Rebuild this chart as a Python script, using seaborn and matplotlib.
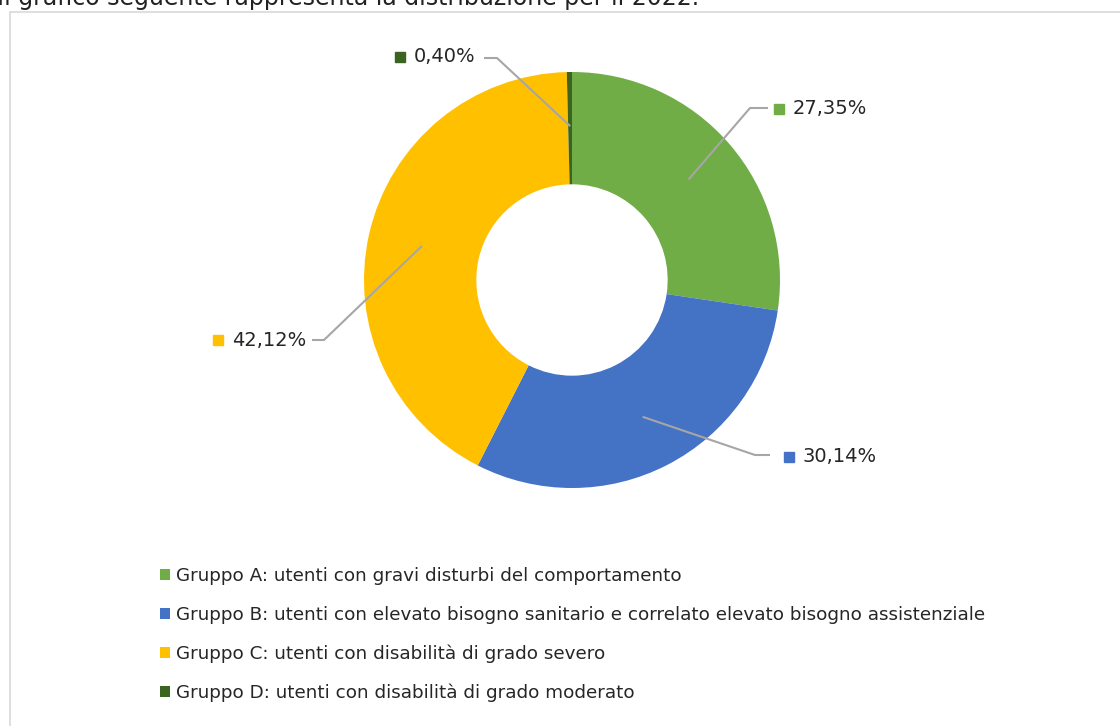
import numpy as np
import matplotlib
matplotlib.use("Agg")
import matplotlib.pyplot as plt
import seaborn as sns
from matplotlib.patches import Patch, Rectangle

sns.set_theme(style="white")
plt.rcParams['font.family'] = ['DejaVu Sans']

# dati
gruppi = [
    "Gruppo A: utenti con gravi disturbi del comportamento",
    "Gruppo B: utenti con elevato bisogno sanitario e correlato elevato bisogno assistenziale",
    "Gruppo C: utenti con disabilità di grado severo",
    "Gruppo D: utenti con disabilità di grado moderato",
]
percentuali = [27.35, 30.14, 42.12, 0.40]
etichette = ["27,35%", "30,14%", "42,12%", "0,40%"]
colori = sns.color_palette(["#70AD47", "#4472C4", "#FFC000", "#3B6420"])

W, H = 1120, 726
fig = plt.figure(figsize=(W / 100, H / 100), dpi=100)

# cornice del grafico e testo sopra (tagliato come nell'originale)
fig.patches.append(Rectangle((10 / W, -0.05), 1.1, 1 - 12 / H + 0.05,
                             transform=fig.transFigure, fill=False,
                             edgecolor="#D9D9D9", linewidth=1.2))
fig.text(-3 / W, 1 - 5 / H, "Il grafico seguente rappresenta la distribuzione per il 2022.",
         fontsize=17, va="baseline", ha="left", color="#222222")

# asse del grafico a ciambella: centro (572, 280), raggio 208 px
cx, cy, R = 572, 280, 208
half = 1.25 * R
ax = fig.add_axes([(cx - half) / W, (H - cy - half) / H, 2 * half / W, 2 * half / H])
wedges, _ = ax.pie(percentuali, colors=colori, startangle=90, counterclock=False,
                   radius=1, wedgeprops=dict(width=0.54, linewidth=0.4, edgecolor="none"))
ax.set_xlim(-1.25, 1.25)
ax.set_ylim(-1.25, 1.25)
ax.axis("off")


def px(x, y):
    return (x - cx) / R, (cy - y) / R


# posizioni delle etichette (pixel): gomito, fine linea, quadratino, testo
pos = [
    ((750, 108), (768, 108), (779, 109), (793, 109)),
    ((755, 455), (770, 455), (789, 457), (803, 457)),
    ((324, 340), (312, 340), (218, 340), (232, 340)),
    ((497, 58), (484, 58), (400, 57), (414, 57)),
]

cum = np.cumsum([0] + percentuali[:-1])
for i, w in enumerate(wedges):
    mid = np.deg2rad(90 - (cum[i] + percentuali[i] / 2) * 3.6)
    r = 0.74
    ax0 = (r * np.cos(mid), r * np.sin(mid))
    elbow, end, sq, tx = pos[i]
    ex, ey = px(*elbow)
    nx, ny = px(*end)
    ax.plot([ax0[0], ex, nx], [ax0[1], ey, ny], color="#A6A6A6", lw=1.5,
            solid_capstyle="butt", clip_on=False)
    sx, sy = px(*sq)
    ax.plot([sx], [sy], marker="s", ms=7, color=colori[i], clip_on=False)
    tx_, ty_ = px(*tx)
    ax.text(tx_, ty_, etichette[i], fontsize=14, va="center", ha="left",
            color="#262626", clip_on=False)

handles = [Patch(facecolor=c, edgecolor="none") for c in colori]
fig.legend(handles, gruppi, loc="upper left", bbox_to_anchor=(160 / W, 1 - 567 / H),
           frameon=False, fontsize=13.2, handlelength=0.55, handleheight=0.55,
           handletextpad=0.3, labelspacing=1.13, borderpad=0, borderaxespad=0,
           labelcolor="#262626")

fig.savefig("out.png", dpi=100)
